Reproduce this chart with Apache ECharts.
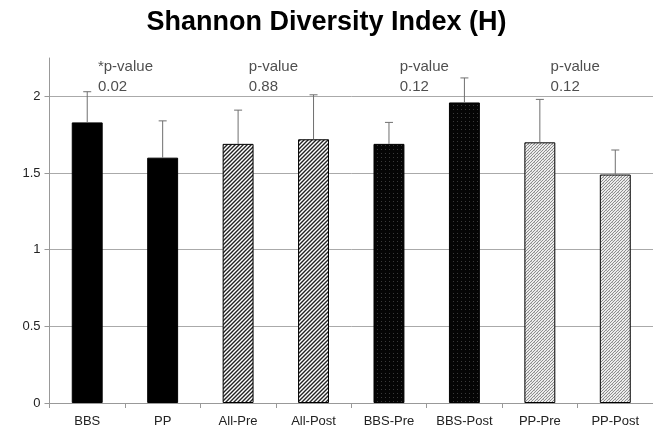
<!DOCTYPE html>
<html>
<head>
<meta charset="utf-8">
<script src="https://cdn.jsdelivr.net/npm/echarts@6/dist/echarts.min.js"></script>
<style>
html,body{margin:0;padding:0;background:#fff;}
#c{width:653px;height:429px;}
</style>
</head>
<body>
<div id="c"></div>
<script>
var categories = ['BBS', 'PP', 'All-Pre', 'All-Post', 'BBS-Pre', 'BBS-Post', 'PP-Pre', 'PP-Post'];
var means = [1.83, 1.60, 1.69, 1.72, 1.69, 1.96, 1.70, 1.49];
var sds = [0.20, 0.24, 0.22, 0.29, 0.14, 0.16, 0.28, 0.16];
var patternKeys = ['solid', 'solid', 'hatch', 'hatch', 'dots', 'dots', 'check', 'check'];
var pHeads = ['*p-value', 'p-value', 'p-value', 'p-value'];
var pValues = ['0.02', '0.88', '0.12', '0.12'];
var pPairCenters = [1, 3, 5, 7];
var pY = 2.125;
var yTicks = [0, 0.5, 1, 1.5, 2];

function makeCanvas(w, h) {
  var c = document.createElement('canvas');
  c.width = w; c.height = h;
  return c;
}
function hatch() {
  var c = makeCanvas(4, 4), g = c.getContext('2d');
  g.fillStyle = '#fff'; g.fillRect(0, 0, 4, 4);
  g.strokeStyle = '#222'; g.lineWidth = 1.4;
  g.beginPath();
  g.moveTo(-1, 5); g.lineTo(5, -1);
  g.moveTo(-1, 1); g.lineTo(1, -1);
  g.moveTo(3, 5); g.lineTo(5, 3);
  g.stroke();
  return c;
}
function dots() {
  var c = makeCanvas(4, 4), g = c.getContext('2d');
  g.fillStyle = '#050505'; g.fillRect(0, 0, 4, 4);
  g.fillStyle = '#3a3a3a'; g.fillRect(1, 1, 1, 1);
  return c;
}
function check() {
  var c = makeCanvas(6, 6), g = c.getContext('2d');
  g.fillStyle = '#ececec'; g.fillRect(0, 0, 6, 6);
  g.strokeStyle = '#8c8c8c'; g.lineWidth = 1;
  g.beginPath();
  g.moveTo(-1, 7); g.lineTo(7, -1);
  g.moveTo(-1, 4); g.lineTo(4, -1);
  g.moveTo(2, 7); g.lineTo(7, 2);
  g.stroke();
  g.fillStyle = '#bbb';
  g.fillRect(0, 0, 1, 1); g.fillRect(3, 3, 1, 1);
  return c;
}
var fills = {
  solid: '#000',
  hatch: { image: hatch(), repeat: 'repeat' },
  dots: { image: dots(), repeat: 'repeat' },
  check: { image: check(), repeat: 'repeat' }
};

var barData = means.map(function (v, i) {
  return { value: v, itemStyle: { color: fills[patternKeys[i]], borderColor: '#000', borderWidth: 1 } };
});
var errData = means.map(function (v, i) { return [i, v, v + sds[i]]; });
var annData = pPairCenters.map(function (x, i) {
  return { value: [x, pY], label: { formatter: pHeads[i] + '\n' + pValues[i] } };
});

var font = 'Liberation Sans, Arial, sans-serif';
var chart = echarts.init(document.getElementById('c'));
chart.setOption({
  animation: false,
  backgroundColor: '#fff',
  title: {
    text: 'Shannon Diversity Index (H)',
    left: 'center', top: 4,
    textStyle: { fontFamily: font, fontSize: 27, fontWeight: 'bold', color: '#000' }
  },
  grid: { left: 49.5, right: 0, top: 58, bottom: 26 },
  xAxis: [{
    type: 'category',
    data: categories,
    axisLine: { lineStyle: { color: '#999', width: 1 } },
    axisTick: { show: true, length: 5, lineStyle: { color: '#999' } },
    axisLabel: { color: '#222', fontFamily: font, fontSize: 13, margin: 12 }
  }, {
    type: 'value', min: 0, max: 8, show: false
  }],
  yAxis: {
    type: 'value', min: 0, max: 2.25, interval: 0.5,
    axisLine: { show: true, lineStyle: { color: '#999' } },
    axisTick: { show: true, length: 5, lineStyle: { color: '#999' } },
    axisLabel: {
      color: '#222', fontFamily: font, fontSize: 13, margin: 9, showMaxLabel: false,
      formatter: function (v) { return yTicks.indexOf(v) >= 0 ? String(v) : ''; }
    },
    splitLine: { show: true, showMaxLine: false, lineStyle: { color: '#aaa', width: 1 } }
  },
  series: [{
    type: 'bar',
    data: barData,
    barWidth: '41%',
    z: 2
  }, {
    type: 'custom',
    data: errData,
    z: 3,
    renderItem: function (params, api) {
      var x = api.value(0);
      var lo = api.coord([x, api.value(1)]);
      var hi = api.coord([x, api.value(2)]);
      var cw = 4;
      return {
        type: 'group',
        children: [{
          type: 'line',
          shape: { x1: lo[0], y1: lo[1], x2: hi[0], y2: hi[1] },
          style: { stroke: '#6f6f6f', lineWidth: 1 }
        }, {
          type: 'line',
          shape: { x1: hi[0] - cw, y1: hi[1], x2: hi[0] + cw, y2: hi[1] },
          style: { stroke: '#6f6f6f', lineWidth: 1 }
        }]
      };
    }
  }, {
    type: 'scatter',
    xAxisIndex: 1,
    data: annData,
    symbolSize: 0,
    z: 4,
    label: {
      show: true, position: 'inside', align: 'left', offset: [-27, 0],
      fontFamily: font, fontSize: 15, lineHeight: 20, color: '#222'
    }
  }]
});
</script>
</body>
</html>
